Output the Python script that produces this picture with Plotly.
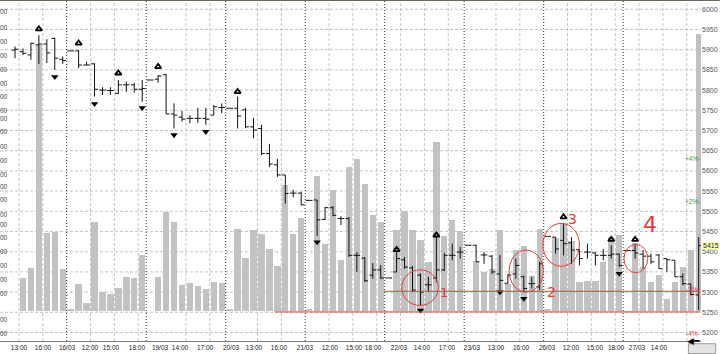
import plotly.graph_objects as go

# ---------------- data (slot = hourly bar index; 10 slots per trading day, 9:00..18:00) ----
slots = list(range(3, 90))
opens = [5899, 5895, 5887, 5912, 5914, 5928, 5876, 5897, 5897, 5862, 5865, 5800, 5799, 5792,
         5813, 5813, 5802, 5825, 5827, 5838, 5741, 5733, 5730, 5730, 5730, 5738, 5757, 5755,
         5755, 5751, 5709, 5705, 5643, 5615, 5590, 5545, 5545, 5527, 5528, 5480, 5509, 5482,
         5482, 5391, 5384, 5342, 5355, 5335, 5350, 5380, 5360, 5342, 5318, 5335, 5355, 5391,
         5399, 5416, 5416, 5392, 5389, 5345, 5322, 5345, 5338, 5321, 5313, 5438, 5436, 5428,
         5422, 5405, 5399, 5397, 5391, 5391, 5394, 5403, 5403, 5394, 5389, 5392, 5383, 5379,
         5338, 5320, 5293]
highs = [5908, 5903, 5917, 5936, 5926, 5930, 5883, 5897, 5899, 5870, 5866, 5807, 5807, 5825,
         5821, 5818, 5825, 5825, 5837, 5840, 5767, 5748, 5738, 5756, 5756, 5763, 5767, 5755,
         5784, 5756, 5731, 5714, 5667, 5630, 5590, 5553, 5548, 5527, 5528, 5511, 5513, 5488,
         5486, 5399, 5387, 5372, 5367, 5335, 5399, 5387, 5365, 5346, 5338, 5437, 5397, 5420,
         5412, 5416, 5417, 5399, 5392, 5392, 5345, 5383, 5341, 5338, 5375, 5438, 5436, 5469,
         5436, 5407, 5420, 5399, 5407, 5416, 5395, 5403, 5420, 5404, 5395, 5394, 5383, 5379,
         5346, 5321, 5436]
lows = [5879, 5887, 5875, 5865, 5867, 5850, 5865, 5897, 5854, 5862, 5784, 5788, 5788, 5790,
        5796, 5794, 5771, 5825, 5818, 5741, 5705, 5722, 5718, 5719, 5714, 5738, 5743, 5755,
        5705, 5706, 5681, 5639, 5610, 5585, 5519, 5535, 5515, 5527, 5439, 5479, 5488, 5466,
        5387, 5350, 5325, 5333, 5333, 5335, 5350, 5358, 5300, 5267, 5300, 5325, 5352, 5379,
        5383, 5416, 5375, 5370, 5345, 5305, 5321, 5333, 5300, 5309, 5305, 5438, 5395, 5391,
        5370, 5366, 5383, 5366, 5379, 5383, 5362, 5403, 5383, 5358, 5370, 5358, 5350, 5338,
        5317, 5292, 5256]
closes = [5901, 5891, 5916, 5914, 5892, 5879, 5873, 5897, 5862, 5862, 5802, 5800, 5799, 5813,
          5813, 5802, 5804, 5825, 5835, 5741, 5738, 5728, 5730, 5730, 5728, 5759, 5757, 5755,
          5736, 5709, 5701, 5643, 5617, 5590, 5544, 5545, 5516, 5527, 5479, 5509, 5490, 5482,
          5391, 5391, 5328, 5355, 5335, 5335, 5383, 5362, 5305, 5300, 5318, 5355, 5391, 5391,
          5399, 5416, 5375, 5392, 5350, 5329, 5342, 5366, 5309, 5321, 5370, 5438, 5407, 5420,
          5404, 5383, 5399, 5391, 5391, 5394, 5366, 5403, 5397, 5389, 5375, 5358, 5380, 5338,
          5321, 5294, 5415]
volumes = [0, 333, 433, 2660, 783, 793, 417, 13, 273, 83, 890, 187, 173, 230, 340, 333, 563, 0,
           340, 993, 890, 257, 280, 247, 223, 290, 283, 13, 823, 530, 813, 773, 623, 447, 1257,
           773, 933, 13, 1350, 673, 1213, 513, 1443, 1520, 1273, 957, 890, 0, 813, 1000, 807,
           710, 490, 1693, 747, 913, 800, 0, 497, 390, 423, 807, 273, 613, 647, 347, 823, 13,
           730, 880, 700, 290, 300, 300, 490, 740, 760, 0, 677, 443, 293, 360, 120, 293, 443,
           610, 2770]

up_signal_slots = [6, 11, 16, 21, 31, 51, 56, 72, 78, 81]
up_signal_prices = [5951, 5916, 5842, 5858, 5796, 5405, 5441, 5486, 5430, 5430]
down_signal_slots = [8, 13, 19, 23, 27, 41, 54, 64, 67, 79]
down_signal_prices = [5833, 5766, 5756, 5689, 5697, 5424, 5255, 5300, 5284, 5346]

tick_slots = [4.0, 7.02, 10.04, 12.93, 15.57, 18.84, 21.74, 24.25, 27.4, 30.67, 33.56, 36.7,
              39.97, 43.1, 46.14, 48.53, 51.8, 54.69, 57.84, 60.98, 64.0, 67.15, 70.42, 73.43,
              76.45, 79.1, 81.74, 84.5]
tick_text = ["13:00", "16:00", "16/03", "12:00", "15:00", "18:00", "19/03", "14:00", "17:00",
             "20/03", "13:00", "16:00", "21/03", "12:00", "15:00", "18:00", "22/03", "14:00",
             "17:00", "23/03", "13:00", "16:00", "26/03", "12:00", "15:00", "18:00", "27/03",
             "14:00"]
day_start_slots = [10, 20, 30, 40, 50, 60, 70, 80]
hour_grid_slots = [4, 7, 13, 16, 19, 25, 28, 34, 37, 43, 46, 49, 52, 55, 58, 64, 67, 73, 76,
                   79, 82, 85, 88]
price_ticks = list(range(5200, 6001, 50))
last_price = 5415
pct_levels = [4, 2, -2, -4]
# left-hand scale (only the last digits are visible at the window edge)
left_labels = ["00"] * 24
left_label_pos = [0.982, 0.935, 0.894, 0.853, 0.812, 0.771, 0.732, 0.691, 0.653, 0.615, 0.571,
                  0.532, 0.491, 0.453, 0.415, 0.371, 0.329, 0.291, 0.250, 0.209, 0.168, 0.126,
                  0.050, 0.009]

# red hand-drawn support lines (price, start slot)
support_lines = [(5302, 49.9), (5251, 36.2)]
# red hand-drawn circles: (slot_center, price_center, slot_radius, price_radius, label, label_slot, label_price, label_size)
circles = [(54.45, 5311, 2.3, 44, "1", 57.4, 5300, 13),
           (67.8, 5352, 2.15, 52, "2", 71.0, 5300, 14),
           (72.2, 5417, 2.3, 53, "3", 73.6, 5480, 14),
           (81.6, 5383, 1.5, 35, "4", 83.4, 5467, 22)]

RED = "#e23b3b"
FONT = "Liberation Sans"

x_lo, x_hi = 1.61, 89.79
y_lo, y_hi = 5179.0, 6020.5

fig = go.Figure()

bx = [s + 0.5 for s, v in zip(slots, volumes) if v > 0]
by = [v for v in volumes if v > 0]
fig.add_trace(go.Bar(x=bx, y=by, width=0.8, marker=dict(color="#c2c2c2", line=dict(width=0)),
                     yaxis="y", hoverinfo="skip"))

fig.add_trace(go.Ohlc(x=[s + 0.5 for s in slots], open=opens, high=highs, low=lows, close=closes,
                      increasing=dict(line=dict(color="#111111", width=1)),
                      decreasing=dict(line=dict(color="#111111", width=1)),
                      tickwidth=0.42, yaxis="y2", hoverinfo="skip"))

fig.add_trace(go.Scatter(x=[s + 0.5 for s in up_signal_slots], y=up_signal_prices, mode="markers",
                         marker=dict(symbol="triangle-up-open", size=5.5, color="#000",
                                     line=dict(width=1.8, color="#000")),
                         yaxis="y2", hoverinfo="skip"))
fig.add_trace(go.Scatter(x=[s + 0.5 for s in down_signal_slots], y=down_signal_prices, mode="markers",
                         marker=dict(symbol="triangle-down", size=6.5, color="#000"),
                         yaxis="y2", hoverinfo="skip"))

shapes = []
for p in price_ticks:
    shapes.append(dict(type="line", xref="paper", yref="y2", x0=0, x1=1, y0=p, y1=p,
                       line=dict(color="#c4c4c4", width=1, dash="3px,2px"), layer="below"))
for s in hour_grid_slots:
    shapes.append(dict(type="line", xref="x", yref="paper", x0=s, x1=s, y0=0, y1=1,
                       line=dict(color="#c4c4c4", width=1, dash="3px,2px"), layer="below"))
for s in day_start_slots:
    shapes.append(dict(type="line", xref="x", yref="paper", x0=s, x1=s, y0=0, y1=1,
                       line=dict(color="#303030", width=1, dash="1px,2px"), layer="below"))
for p, s0 in support_lines:
    shapes.append(dict(type="line", xref="x", yref="y2", x0=s0, x1=x_hi - 0.1, y0=p, y1=p,
                       line=dict(color=RED, width=1)))
annotations = []
for cx, cy, rx, ry, lab, lx, ly, ls in circles:
    shapes.append(dict(type="circle", xref="x", yref="y2", x0=cx - rx, x1=cx + rx,
                       y0=cy - ry, y1=cy + ry, line=dict(color=RED, width=1)))
    annotations.append(dict(x=lx, y=ly, xref="x", yref="y2", text=lab, showarrow=False,
                            font=dict(family="DejaVu Sans", size=ls, color=RED)))

# top border
shapes.append(dict(type="rect", xref="paper", yref="paper", x0=-0.01, x1=1.04, y0=1.0, y1=1.004,
                   fillcolor="#6a6a5c", line=dict(width=0)))
# bottom scroll button
shapes.append(dict(type="rect", xref="paper", yref="paper", x0=0.982, x1=1.021, y0=-0.037, y1=-0.008,
                   fillcolor="#e4e4e4", line=dict(color="#9a9a9a", width=1)))
annotations.append(dict(x=1.001, y=-0.022, xref="paper", yref="paper", text="◀━", showarrow=False,
                        font=dict(family="DejaVu Sans", size=9, color="#000")))

# last price box
annotations.append(dict(x=1.0, y=last_price, xref="paper", yref="y2", xanchor="left", xshift=1,
                        text=str(last_price), showarrow=False, bgcolor="#ffffb4", borderpad=0,
                        font=dict(family=FONT, size=7, color="#222")))
for pc in pct_levels:
    col = "#3a9a3a" if pc > 0 else "#c04040"
    annotations.append(dict(x=1.0, y=last_price * (1 + pc / 100.0), xref="paper", yref="y2",
                            xanchor="right", xshift=1, text=("%+d%%" % pc) + "-", showarrow=False,
                            font=dict(family=FONT, size=6.5, color=col)))
for txt, yp in zip(left_labels, left_label_pos):
    annotations.append(dict(x=0.0128, y=yp, xref="paper", yref="paper", xanchor="right",
                            text=txt, showarrow=False, borderpad=0,
                            font=dict(family=FONT, size=6.5, color="#444")))

fig.update_layout(
    width=720, height=354,
    margin=dict(l=0, r=19, t=1, b=13),
    paper_bgcolor="white", plot_bgcolor="white",
    showlegend=False, bargap=0,
    xaxis=dict(range=[x_lo, x_hi], tickmode="array", tickvals=tick_slots, ticktext=tick_text,
               showgrid=False, zeroline=False, rangeslider=dict(visible=False),
               showline=True, linecolor="#7a7a7a", ticks="",
               tickfont=dict(family=FONT, size=6.5, color="#222")),
    yaxis=dict(range=[-300, 3100], visible=False, showgrid=False, zeroline=False),
    yaxis2=dict(range=[y_lo, y_hi], overlaying="y", side="right", tickmode="array",
                tickvals=price_ticks, showgrid=False, zeroline=False, ticks="",
                tickfont=dict(family=FONT, size=7, color="#555")),
    shapes=shapes, annotations=annotations,
)

fig.write_html("out.html")
